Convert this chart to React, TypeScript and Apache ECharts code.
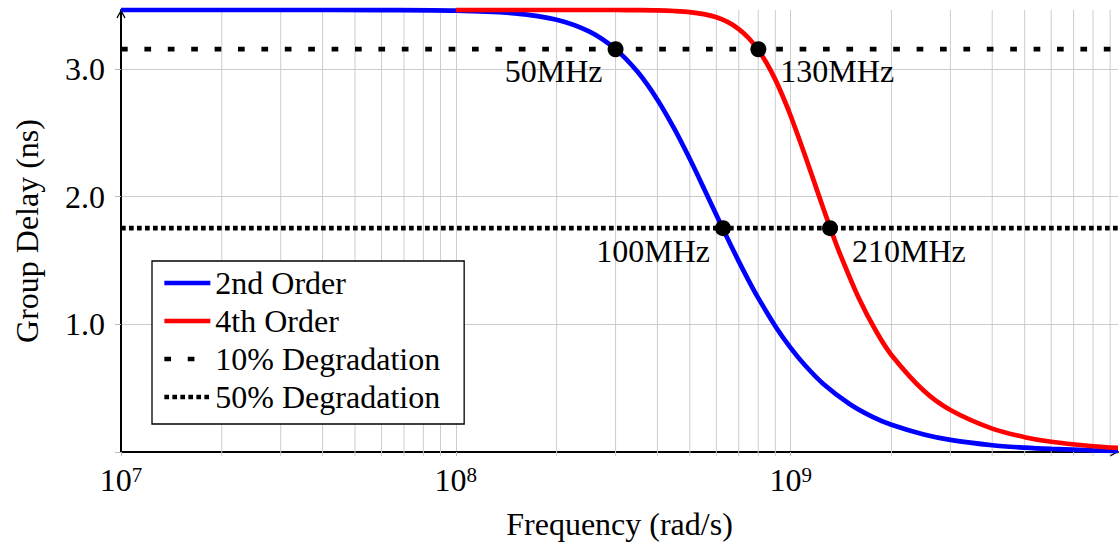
import React, { useEffect, useRef } from 'react';
import * as echarts from 'echarts';

const FONT = 'Liberation Serif, DejaVu Serif, serif';
const FS = 32;

// ---- data ----
const blueFreq = [1e7, 3e7, 6e7, 1e8, 1.5e8, 2e8, 2.5e8, 3e8, 3.5e8, 4e8, 4.5e8, 5e8, 5.5e8, 6.28e8, 7e8, 7.5e8, 8e8, 9e8, 1e9, 1.1e9, 1.25e9, 1.5e9, 1.75e9, 2e9, 2.5e9, 3e9, 4e9, 5e9, 6e9, 8e9, 9.5e9];
const blueDelay = [3.46, 3.46, 3.459, 3.455, 3.434, 3.384, 3.292, 3.153, 2.972, 2.758, 2.527, 2.293, 2.067, 1.746, 1.492, 1.34, 1.206, 0.985, 0.815, 0.683, 0.535, 0.376, 0.277, 0.213, 0.137, 0.095, 0.053, 0.034, 0.024, 0.013, 0.0095];

const redFreq = [1e8, 2e8, 3e8, 3.5e8, 4e8, 4.5e8, 5e8, 5.5e8, 6e8, 6.5e8, 7e8, 7.5e8, 8e8, 8.5e8, 9e8, 9.5e8, 1e9, 1.1e9, 1.2e9, 1.311e9, 1.4e9, 1.6e9, 1.8e9, 2e9, 2.5e9, 3e9, 4e9, 5e9, 6e9, 8e9, 9.5e9];
const redDelay = [3.46, 3.46, 3.46, 3.459, 3.457, 3.452, 3.444, 3.428, 3.403, 3.365, 3.311, 3.239, 3.148, 3.039, 2.915, 2.777, 2.632, 2.333, 2.046, 1.759, 1.559, 1.201, 0.945, 0.76, 0.479, 0.329, 0.183, 0.116, 0.08, 0.045, 0.032];

const tenPctLevel = 3.153;
const fiftyPctLevel = 1.752;

const markerFreq = [3.0e8, 8.01e8, 6.28e8, 1.311e9];
const markerDelay = [3.153, 3.153, 1.752, 1.752];
const markerLabels = ['50MHz', '130MHz', '100MHz', '210MHz'];

const minorGridFreq = [
  2e7, 3e7, 4e7, 5e7, 6e7, 7e7, 8e7, 9e7,
  2e8, 3e8, 4e8, 5e8, 6e8, 7e8, 8e8, 9e8,
  2e9, 3e9, 4e9, 5e9, 6e9, 7e9, 8e9, 9e9,
];

const seriesNames = ['2nd Order', '4th Order', '10% Degradation', '50% Degradation'];

const xMin = 1e7;
const xMax = 9.5e9;
const yMin = 0;
const yMax = 3.46;

const GRID = '#cccccc';
const ARROW = 'path://M5 0 L10 9 L9 10 L5 3 L1 10 L0 9 Z';

function buildOption() {
  const zip = (a: number[], b: number[]) => a.map((v, i) => [v, b[i]]);
  return {
    animation: false,
    backgroundColor: '#fff',
    textStyle: { fontFamily: FONT },
    grid: { left: 121, right: 2, top: 10, bottom: 96, containLabel: false },
    xAxis: {
      type: 'log',
      logBase: 10,
      min: xMin,
      max: xMax,
      name: 'Frequency (rad/s)',
      nameLocation: 'middle',
      nameGap: 56,
      nameTextStyle: { fontSize: FS, fontFamily: FONT, color: '#000' },
      axisLine: {
        show: true,
        lineStyle: { color: '#000', width: 2 },
        symbol: ['none', ARROW],
        symbolSize: [10, 9],
        symbolOffset: [0, -4],
      },
      axisTick: { show: true, length: 4, lineStyle: { color: '#bbb' } },
      splitLine: { show: true, showMinLine: false, showMaxLine: false, lineStyle: { color: GRID, width: 1 } },
      axisLabel: {
        margin: 12,
        showMaxLabel: false,
        formatter: (v: number) => {
          const l = Math.log10(v);
          const e = Math.round(l);
          if (Math.abs(l - e) > 1e-6) return '';
          return `{b|10}{s|${e}}`;
        },
        rich: {
          b: { fontSize: FS, fontFamily: FONT, color: '#000' },
          s: { fontSize: 21, fontFamily: FONT, color: '#000', verticalAlign: 'top' },
        },
      },
    },
    yAxis: {
      type: 'value',
      min: yMin,
      max: yMax,
      interval: 1,
      name: 'Group Delay (ns)',
      nameLocation: 'middle',
      nameGap: 78,
      nameTextStyle: { fontSize: FS, fontFamily: FONT, color: '#000' },
      axisLine: {
        show: true,
        lineStyle: { color: '#000', width: 2 },
        symbol: ['none', ARROW],
        symbolSize: [10, 9],
        symbolOffset: [0, -4],
      },
      axisTick: { show: true, length: 6, lineStyle: { color: '#bbb' } },
      splitLine: { show: true, showMinLine: false, showMaxLine: false, lineStyle: { color: GRID, width: 1 } },
      axisLabel: {
        margin: 16,
        fontSize: FS,
        fontFamily: FONT,
        color: '#000',
        showMaxLabel: false,
        formatter: (v: number) => (v !== 0 && Math.abs(v - Math.round(v)) < 1e-9 ? v.toFixed(1) : ''),
      },
    },
    legend: {
      data: seriesNames,
      orient: 'vertical',
      left: 152,
      top: 261,
      padding: [6, 24, 11, 10],
      itemGap: 6,
      itemWidth: 46,
      itemHeight: 32,
      backgroundColor: '#fff',
      borderColor: '#000',
      borderWidth: 1.3,
      borderRadius: 0,
      selectedMode: false,
      lineStyle: { width: 4.7 },
      itemStyle: { color: 'rgba(0,0,0,0)', borderWidth: 0, opacity: 0 },
      textStyle: { fontSize: FS, fontFamily: FONT, color: '#000', lineHeight: 32 },
    },
    series: [
      {
        type: 'custom',
        name: 'minor-grid',
        z: 1,
        silent: true,
        data: minorGridFreq.map((f) => [f, 0]),
        encode: { x: 0, y: 1 },
        renderItem: (_p: any, api: any) => {
          const f = api.value(0);
          const top = api.coord([f, yMax]);
          const bot = api.coord([f, yMin]);
          return {
            type: 'line',
            shape: { x1: top[0], y1: top[1], x2: bot[0], y2: bot[1] + 4 },
            style: { stroke: GRID, lineWidth: 1 },
          };
        },
      },
      {
        type: 'line',
        name: seriesNames[0],
        data: zip(blueFreq, blueDelay),
        symbol: 'none',
        smooth: 0.3,
        clip: false,
        z: 3,
        lineStyle: { color: '#0000ff', width: 4.7 },
        itemStyle: { color: '#0000ff' },
      },
      {
        type: 'line',
        name: seriesNames[1],
        data: zip(redFreq, redDelay),
        symbol: 'none',
        smooth: 0.3,
        clip: false,
        z: 4,
        lineStyle: { color: '#ff0000', width: 4.7 },
        itemStyle: { color: '#ff0000' },
      },
      {
        type: 'line',
        name: seriesNames[2],
        data: [[xMin, tenPctLevel], [xMax, tenPctLevel]],
        symbol: 'none',
        z: 5,
        lineStyle: { color: '#000', width: 4.7, type: [6.7, 16.7], cap: 'butt' },
        itemStyle: { color: '#000' },
      },
      {
        type: 'line',
        name: seriesNames[3],
        data: [[xMin, fiftyPctLevel], [xMax, fiftyPctLevel]],
        symbol: 'none',
        z: 5,
        lineStyle: { color: '#000', width: 4.7, type: [4.7, 3.3], cap: 'butt' },
        itemStyle: { color: '#000' },
      },
      {
        type: 'scatter',
        name: 'markers',
        z: 6,
        symbol: 'circle',
        symbolSize: 16,
        itemStyle: { color: '#000', opacity: 1 },
        data: markerFreq.map((f, i) => {
          const left = i % 2 === 0;
          return {
            value: [f, markerDelay[i]],
            label: {
              show: true,
              formatter: markerLabels[i],
              position: left ? 'left' : 'right',
              offset: left ? [0, i < 2 ? 22 : 23] : [9, i < 2 ? 22 : 23],
              fontSize: FS,
              fontFamily: FONT,
              color: '#000',
              opacity: 1,
            },
          };
        }),
      },
    ],
  };
}

export default function App() {
  const ref = useRef<HTMLDivElement>(null);
  useEffect(() => {
    if (!ref.current) return;
    const chart = echarts.init(ref.current, null, { renderer: 'svg' });
    chart.setOption(buildOption() as any);
    return () => chart.dispose();
  }, []);
  return (
    <div
      ref={ref}
      style={{ position: 'fixed', left: 0, top: 0, width: 1120, height: 548, background: '#fff' }}
    />
  );
}
